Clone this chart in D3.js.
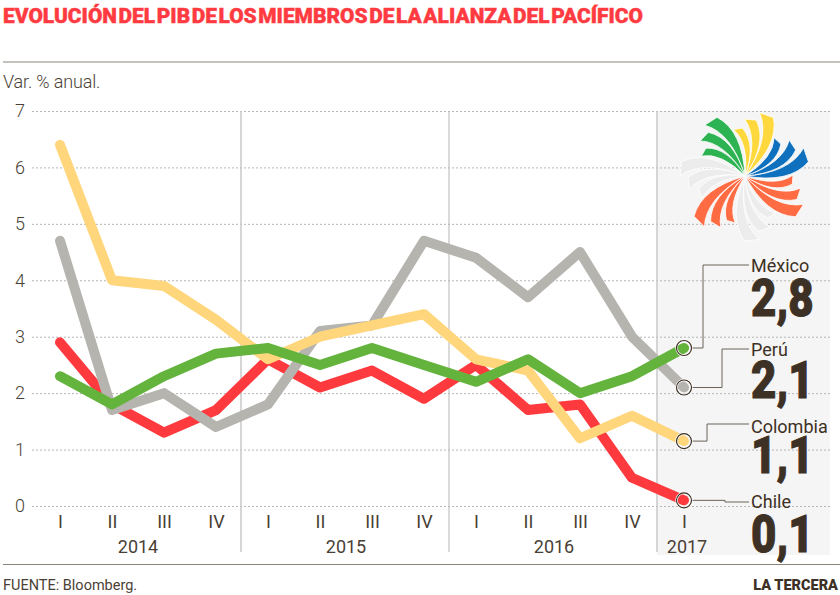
<!DOCTYPE html>
<html>
<head>
<meta charset="utf-8">
<script src="https://cdn.jsdelivr.net/npm/d3@7"></script>
<style>
html, body { margin: 0; padding: 0; background: #fff; }
svg { display: block; }
text { font-family: Roboto, sans-serif; fill: #4a3f35; }
</style>
</head>
<body>
<div id="chart"></div>
<script>
const quarters = ["I","II","III","IV","I","II","III","IV","I","II","III","IV","I"];
const years = ["2014","2015","2016","2017"];
const yTicks = [0,1,2,3,4,5,6,7];

const peru =     [4.7,1.7,2.0,1.4,1.8,3.1,3.2,4.7,4.4,3.7,4.5,3.0,2.1];
const colombia = [6.4,4.0,3.9,3.3,2.6,3.0,3.2,3.4,2.6,2.4,1.2,1.6,1.15];
const chile =    [2.9,1.8,1.3,1.7,2.6,2.1,2.4,1.9,2.5,1.7,1.8,0.5,0.1];
const mexico =   [2.3,1.8,2.3,2.7,2.8,2.5,2.8,2.5,2.2,2.6,2.0,2.3,2.8];

const names = ["México","Perú","Colombia","Chile"];
const lastLabels = ["2,8","2,1","1,1","0,1"];

const width = 840, height = 595;
const brown = "#3d3024";

const svg = d3.select("#chart").append("svg")
  .attr("width", width).attr("height", height);

const x = d3.scalePoint().domain(d3.range(quarters.length)).range([60, 684]);
const y = d3.scaleLinear().domain([0, 7]).range([506, 111]);

// shaded 2017 panel goes below everything
svg.append("rect").attr("x", 657).attr("y", 111).attr("width", 173).attr("height", 444)
  .attr("fill", "#f5f5f5");

// title and rules
svg.append("text").attr("x", 3).attr("y", 23)
  .attr("font-size", 20).attr("font-weight", 900)
  .attr("textLength", 640).attr("lengthAdjust", "spacingAndGlyphs")
  .attr("stroke", "#ff3b41").attr("stroke-width", 0.4)
  .style("fill", "#ff3b41").style("word-spacing", "-3.5px")
  .text("EVOLUCIÓN DEL PIB DE LOS MIEMBROS DE LA ALIANZA DEL PACÍFICO");

svg.append("line").attr("x1", 3).attr("x2", 840).attr("y1", 62).attr("y2", 62)
  .attr("stroke", "#8b847b").attr("stroke-width", 1);
svg.append("line").attr("x1", 3).attr("x2", 840).attr("y1", 564.5).attr("y2", 564.5)
  .attr("stroke", "#8b847b").attr("stroke-width", 1);

svg.append("text").attr("x", 3).attr("y", 88)
  .attr("font-size", 18).attr("font-weight", 300).attr("letter-spacing", -0.15)
  .text("Var. % anual.");

// y axis with the dotted grid
const yAxis = svg.append("g").attr("transform", "translate(32,0)")
  .call(d3.axisLeft(y).tickValues(yTicks).tickFormat(d3.format("d")).tickSize(-800).tickPadding(7));
yAxis.select(".domain").remove();
yAxis.selectAll("line").attr("stroke", "#b5b5b5").attr("stroke-dasharray", "2,2");
yAxis.selectAll("text").attr("font-size", 18).attr("font-weight", 300)
  .attr("font-family", "Roboto").style("fill", "#4a3f35");

// year separators
[[241,1.5,"#c9c9c9"],[449,1,"#b5b5b5"],[657,1.5,"#c9c9c9"]].forEach(s => {
  svg.append("line").attr("x1", s[0]).attr("x2", s[0]).attr("y1", 111).attr("y2", 552)
    .attr("stroke", s[2]).attr("stroke-width", s[1]);
});

// x axis, quarters then years
const xAxis = svg.append("g").attr("transform", "translate(0,506)")
  .call(d3.axisBottom(x).tickSize(0).tickPadding(9).tickFormat(i => quarters[i]));
xAxis.select(".domain").remove();
xAxis.selectAll("text").attr("font-size", 18).attr("font-weight", 400)
  .attr("font-family", "Roboto").style("fill", "#4a3f35");

// each year label sits under the middle of its quarters
const yearSpans = [[0,3],[4,7],[8,11],[12,12]];
svg.selectAll(".year").data(years).join("text")
  .attr("class", "year")
  .attr("x", (d, i) => (x(yearSpans[i][0]) + x(yearSpans[i][1])) / 2)
  .attr("dx", (d, i) => i === 3 ? 3 : 0)
  .attr("y", 553)
  .attr("text-anchor", "middle").attr("font-size", 18).attr("font-weight", 400)
  .text(d => d);

// lines, red at the bottom and green on top
const line = d3.line().x((d, i) => x(i)).y(d => y(d));
const series = [
  {values: chile, color: "#ff3a3f"},
  {values: peru, color: "#b6b4af"},
  {values: colombia, color: "#ffd67c"},
  {values: mexico, color: "#63b33d"}
];
svg.selectAll(".serie").data(series).join("path")
  .attr("class", "serie")
  .attr("d", d => line(d.values))
  .attr("fill", "none")
  .attr("stroke", d => d.color)
  .attr("stroke-width", 10)
  .attr("stroke-linecap", "round")
  .attr("stroke-linejoin", "round");

// callouts: end of line to the name at the right
const callouts = [
  {v: mexico[12], elbow: 703, ny: 265, nb: 272, vy: 316},
  {v: peru[12], elbow: 722, ny: 349, nb: 356, vy: 398},
  {v: colombia[12], elbow: 707, ny: 424, nb: 433, vy: 473},
  {v: chile[12], elbow: 725, ny: 502, nb: 508, vy: 552}
];
callouts.forEach((c, i) => {
  const cy = y(c.v);
  svg.append("path")
    .attr("d", d3.line()([[x(12) + 8, cy], [c.elbow, cy], [c.elbow, c.ny], [749, c.ny]]))
    .attr("fill", "none").attr("stroke", "#6b6258").attr("stroke-width", 1);
  svg.append("circle").attr("cx", x(12)).attr("cy", cy).attr("r", 7.5)
    .attr("fill", "none").attr("stroke", "#fff").attr("stroke-width", 2.5);
  svg.append("circle").attr("cx", x(12)).attr("cy", cy).attr("r", 7.5)
    .attr("fill", "none").attr("stroke", brown).attr("stroke-width", 1.2);
  svg.append("text").attr("x", 751).attr("y", c.nb)
    .attr("font-size", 18).attr("font-weight", 400).style("fill", brown)
    .text(names[i]);
  svg.append("text")
    .attr("transform", `translate(751,${c.vy}) scale(0.86,1)`)
    .attr("font-size", 51).attr("font-weight", 900)
    .attr("stroke", brown).attr("stroke-width", 1)
    .style("fill", brown)
    .text(lastLabels[i]);
});

// footer
svg.append("text").attr("x", 3).attr("y", 590)
  .attr("font-size", 14.5).attr("font-weight", 400).text("FUENTE: Bloomberg.");
svg.append("text").attr("x", 838).attr("y", 590).attr("text-anchor", "end")
  .attr("font-size", 14.5).attr("font-weight", 900).style("fill", brown).text("LA TERCERA");

// alianza del pacifico logo: seven fans of three curved blades
const logo = svg.append("g").attr("transform", "translate(745,176)");
const fanColors = ["#2eb352","#ffd83d","#0f70bd","#ff6b42","#ececec","#ff6b42","#ececec"];
const blades = [{r: 65, off: 0, w: 6.5}, {r: 57, off: -14, w: 6}, {r: 48, off: -28, w: 5.5}];
const polar = (deg, r) => {
  const a = (deg - 90) * Math.PI / 180;
  return [r * Math.cos(a), r * Math.sin(a)];
};
fanColors.forEach((color, f) => {
  const a = -32 + f * 360 / 7;
  blades.forEach(b => {
    const t = a + b.off;
    const c1 = polar(t + 15, b.r * 0.7), c2 = polar(t + 29, b.r * 0.7);
    const p1 = polar(t - b.w, b.r), p2 = polar(t + b.w, b.r);
    logo.append("path")
      .attr("d", `M0,0Q${c1} ${p1}L${p2}Q${c2} 0,0Z`)
      .attr("fill", color).attr("stroke", "#fff")
      .attr("stroke-width", 0.8).attr("stroke-linejoin", "round");
  });
});
</script>
</body>
</html>
